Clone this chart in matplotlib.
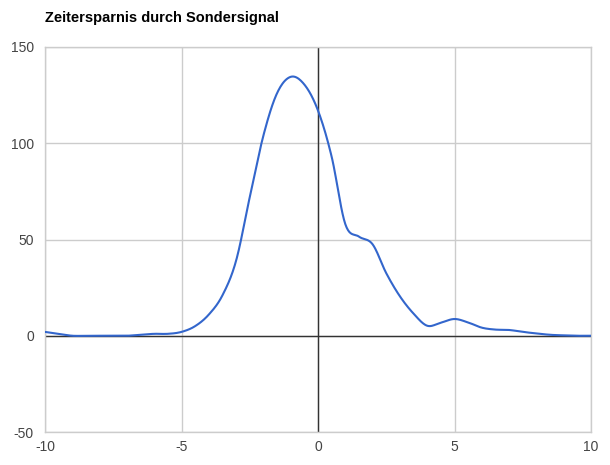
import numpy as np
import matplotlib.pyplot as plt

plt.rcParams['font.family'] = ['Liberation Sans', 'DejaVu Sans']
plt.rcParams['axes.unicode_minus'] = False

# values, every 0.5
x = np.arange(-10, 10.5, 0.5)
y = np.array([2, 1, 0, 0, 0, 0, 0, 0.5, 1, 1,
              2, 5, 11, 21, 39, 72, 104, 126, 134.5, 130.5,
              117, 93, 58, 51.5, 47.5, 32.5, 20.5, 11.5, 5.2, 6.8,
              8.7, 6.9, 4.2, 3.2, 3, 2, 1.2, 0.5, 0.2, 0, 0])

x_ticks = [-10, -5, 0, 5, 10]
y_ticks = [-50, 0, 50, 100, 150]


def smooth(xs, ys, n=20):
    # catmull-rom through the points, like the curved line of the original
    px = np.concatenate([[2 * xs[0] - xs[1]], xs, [2 * xs[-1] - xs[-2]]])
    py = np.concatenate([[2 * ys[0] - ys[1]], ys, [2 * ys[-1] - ys[-2]]])
    t = np.linspace(0, 1, n, endpoint=False)
    ox, oy = [], []
    for i in range(1, len(px) - 2):
        for p, o in ((px, ox), (py, oy)):
            p0, p1, p2, p3 = p[i - 1], p[i], p[i + 1], p[i + 2]
            o.extend(0.5 * (2 * p1 + (-p0 + p2) * t
                            + (2 * p0 - 5 * p1 + 4 * p2 - p3) * t ** 2
                            + (-p0 + 3 * p1 - 3 * p2 + p3) * t ** 3))
    ox.append(xs[-1])
    oy.append(ys[-1])
    return np.array(ox), np.array(oy)


fig = plt.figure(figsize=(6.1, 4.65), dpi=100)
ax = fig.add_axes([45 / 610, 1 - 432 / 465, 546 / 610, 385 / 465])

sx, sy = smooth(x, y)
ax.plot(sx, sy, color='#3366cc', linewidth=1.5, zorder=3, solid_capstyle='round')

ax.set_xlim(-10, 10)
ax.set_ylim(-50, 150)
ax.set_xticks(x_ticks)
ax.set_yticks(y_ticks)
ax.grid(True, color='#cccccc', linewidth=1)
ax.axhline(0, color='#333333', linewidth=1, zorder=2)
ax.axvline(0, color='#333333', linewidth=1, zorder=2)
for s in ax.spines.values():
    s.set_color('#cccccc')
    s.set_linewidth(1)
ax.tick_params(length=0, labelsize=10, labelcolor='#444444', pad=6)
ax.tick_params(axis='y', pad=8)

fig.text(45 / 610, 1 - 18 / 465, 'Zeitersparnis durch Sondersignal',
         fontsize=10.5, fontweight='bold', color='#000000', va='center', ha='left')

fig.savefig('out.png', dpi=100)
